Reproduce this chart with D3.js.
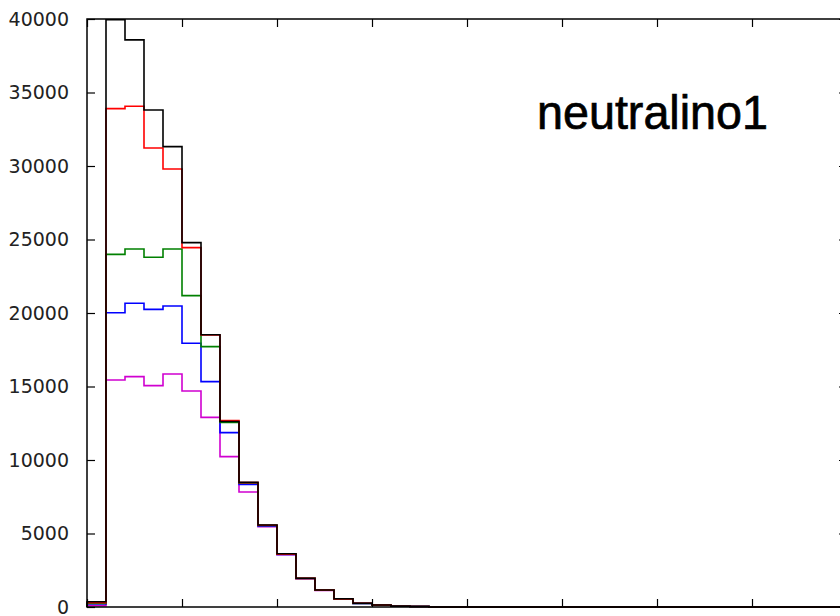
<!DOCTYPE html>
<html>
<head>
<meta charset="utf-8">
<script src="https://cdn.jsdelivr.net/npm/d3@7"></script>
<style>
  html, body { margin: 0; padding: 0; background: #fff; overflow: hidden; }
  svg { display: block; }
</style>
</head>
<body>
<svg id="chart" width="840" height="616"></svg>
<script>
// ---- data (histogram bin counts, 40 bins) ----
const binCount = 40;
const xTicks = [0, 5, 10, 15, 20, 25, 30, 35, 40];
const yTicks = [0, 5000, 10000, 15000, 20000, 25000, 30000, 35000, 40000];
const yTickLabels = ["0", "5000", "10000", "15000", "20000", "25000", "30000", "35000", "40000"];
const titleLabel = "neutralino1";

const magentaValues = [80, 15440, 15670, 15060, 15850, 14690, 12900, 10230, 7820, 5470, 3560, 1930, 1130, 540, 245, 125, 50, 30, 0, 0,
  0, 0, 0, 0, 0, 0, 0, 0, 0, 0, 0, 0, 0, 0, 0, 0, 0, 0, 0, 0];
const blueValues = [200, 20020, 20660, 20250, 20480, 17940, 15330, 11860, 8330, 5520, 3580, 1940, 1140, 545, 250, 130, 55, 35, 0, 0,
  0, 0, 0, 0, 0, 0, 0, 0, 0, 0, 0, 0, 0, 0, 0, 0, 0, 0, 0, 0];
const greenValues = [240, 23990, 24350, 23790, 24350, 21180, 17710, 12560, 8440, 5550, 3590, 1945, 1150, 550, 250, 135, 55, 35, 0, 0,
  0, 0, 0, 0, 0, 0, 0, 0, 0, 0, 0, 0, 0, 0, 0, 0, 0, 0, 0, 0];
const redValues = [290, 33900, 34060, 31220, 29800, 24450, 18500, 12680, 8460, 5560, 3600, 1950, 1155, 550, 255, 135, 55, 35, 0, 0,
  0, 0, 0, 0, 0, 0, 0, 0, 0, 0, 0, 0, 0, 0, 0, 0, 0, 0, 0, 0];
const blackValues = [360, 39950, 38580, 33810, 31320, 24790, 18520, 12620, 8480, 5580, 3620, 1960, 1160, 560, 260, 140, 60, 40, 0, 0,
  0, 0, 0, 0, 0, 0, 0, 0, 0, 0, 0, 0, 0, 0, 0, 0, 0, 0, 0, 0];

const seriesList = [
  { name: "magenta", color: "#d000d0", values: magentaValues },
  { name: "blue", color: "#0000ff", values: blueValues },
  { name: "green", color: "#008000", values: greenValues },
  { name: "red", color: "#ff0000", values: redValues },
  { name: "black", color: "#000000", values: blackValues }
];

// ---- layout ----
const svg = d3.select("#chart");
const mLeft = 87, mRight = 847, mTop = 19, mBottom = 607;

const x = d3.scaleLinear().domain([0, binCount]).range([mLeft, mRight]);
const y = d3.scaleLinear().domain([0, 40000]).range([mBottom, mTop]);

// step lines
const line = d3.line()
  .x(d => x(d[0]))
  .y(d => y(d[1]))
  .curve(d3.curveStepAfter);

const plot = svg.append("g");
seriesList.forEach(s => {
  const pts = [[0, 0]];
  s.values.forEach((v, i) => pts.push([i, v]));
  pts.push([binCount, s.values[binCount - 1]]);
  pts.push([binCount, 0]);
  plot.append("path")
    .attr("d", line(pts))
    .attr("fill", "none")
    .attr("stroke", s.color)
    .attr("stroke-width", 1.6)
    .attr("stroke-linejoin", "miter");
});

// axes (inward ticks, matplotlib classic)
const tickLen = 8;
const fontFam = "'DejaVu Sans', sans-serif";

const yAxisL = d3.axisLeft(y).tickValues(yTicks).tickSizeInner(-tickLen).tickSizeOuter(0)
  .tickPadding(10 + tickLen).tickFormat((d, i) => yTickLabels[i]);
const gL = svg.append("g").attr("transform", `translate(${mLeft},0)`).call(yAxisL);
gL.selectAll("text").attr("font-family", fontFam).attr("font-size", 19).attr("fill", "#222");

const yAxisR = d3.axisRight(y).tickValues(yTicks).tickSizeInner(-tickLen).tickSizeOuter(0).tickFormat("");
svg.append("g").attr("transform", `translate(${mRight},0)`).call(yAxisR);

const xAxisB = d3.axisBottom(x).tickValues(xTicks).tickSizeInner(-tickLen).tickSizeOuter(0).tickFormat("");
svg.append("g").attr("transform", `translate(0,${mBottom})`).call(xAxisB);

const xAxisT = d3.axisTop(x).tickValues(xTicks).tickSizeInner(-tickLen).tickSizeOuter(0).tickFormat("");
svg.append("g").attr("transform", `translate(0,${mTop})`).call(xAxisT);

svg.selectAll(".tick line").attr("stroke", "#000").attr("stroke-width", 1.2);
svg.selectAll(".domain").remove();

// frame
svg.append("rect")
  .attr("x", mLeft).attr("y", mTop)
  .attr("width", mRight - mLeft).attr("height", mBottom - mTop)
  .attr("fill", "none").attr("stroke", "#000").attr("stroke-width", 1.5);

// annotation
svg.append("text")
  .attr("x", 537).attr("y", 129)
  .attr("font-family", "'Liberation Sans', Arial, sans-serif")
  .attr("font-size", 48)
  .attr("textLength", 231)
  .attr("lengthAdjust", "spacingAndGlyphs")
  .attr("fill", "#000")
  .attr("stroke", "#000")
  .attr("stroke-width", 0.7)
  .text(titleLabel);
</script>
</body>
</html>
